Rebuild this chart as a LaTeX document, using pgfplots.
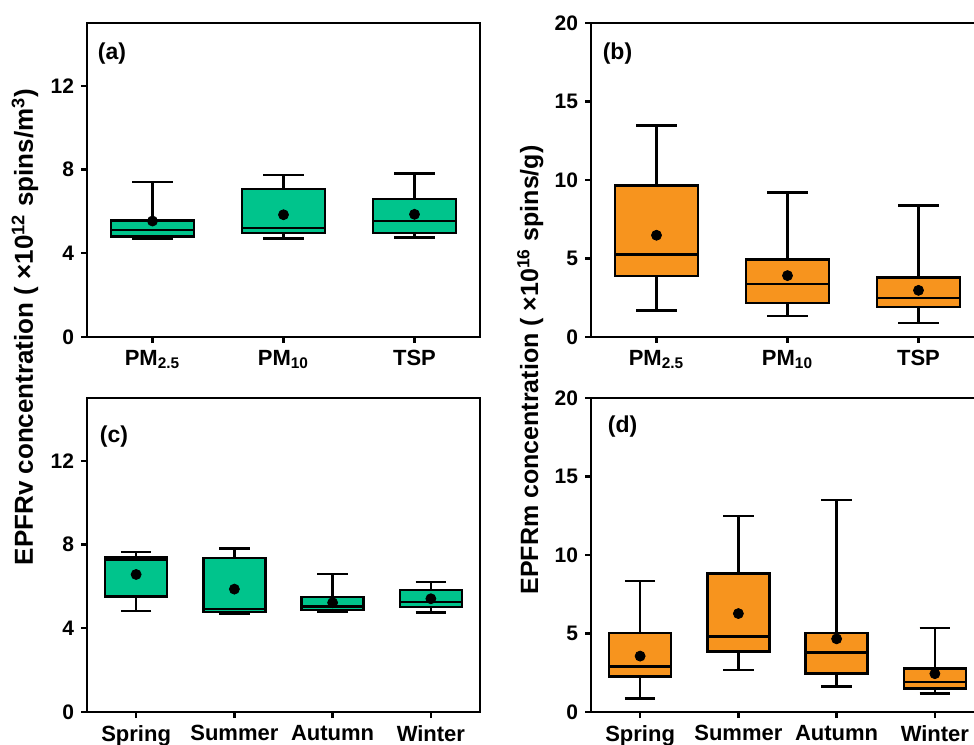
\documentclass[border=0pt]{standalone}
\usepackage{fontspec}
\setmainfont{Liberation Sans}
\usepackage{pgfplots}
\pgfplotsset{compat=1.18}
\usepgfplotslibrary{statistics}

\definecolor{boxgreen}{RGB}{0,196,140}
\definecolor{boxorange}{RGB}{247,148,30}

\pgfplotsset{
  panel/.style={
    scale only axis, width=196.5pt, height=157pt,
    anchor=south west,
    axis line style={line width=1.2pt},
    every tick/.style={line width=1.2pt, black},
    tick align=outside, major tick length=3pt,
    xtick pos=bottom, ytick pos=left,
    xticklabel style={font=\fontsize{11}{13}\selectfont\bfseries},
    yticklabel style={font=\fontsize{10.5}{12}\selectfont\bfseries},
    /pgf/number format/assume math mode=true,
    xmin=0.5, ymin=0,
    boxplot/draw direction=y,
    boxplot/box extend=0.63,
    boxplot/whisker extend=0.31,
  },
  bx/.style={solid, draw=black, line width=1.2pt, fill=#1, mark=none},
  meanpt/.style={only marks, mark=*, mark size=2.5pt, black, mark options={fill=black}},
}
\tikzset{tag/.style={anchor=north west, font=\fontsize{11.5}{13}\selectfont\bfseries}}

\begin{document}
\begin{tikzpicture}

% (a) EPFRv by particle size
\begin{axis}[panel, at={(43.5pt,203.5pt)}, xmax=3.5, ymax=15,
  ytick={0,4,8,12}, xtick={1,2,3},
  xticklabels={PM\textsubscript{2.5}, PM\textsubscript{10}, TSP}]
\addplot[bx=boxgreen, boxplot prepared={draw position=1, lower whisker=4.71,
  lower quartile=4.81, median=5.10, upper quartile=5.57, upper whisker=7.40}] coordinates {};
\addplot[bx=boxgreen, boxplot prepared={draw position=2, lower whisker=4.70,
  lower quartile=4.97, median=5.22, upper quartile=7.06, upper whisker=7.75}] coordinates {};
\addplot[bx=boxgreen, boxplot prepared={draw position=3, lower whisker=4.76,
  lower quartile=4.98, median=5.54, upper quartile=6.59, upper whisker=7.81}] coordinates {};
\addplot[meanpt] coordinates {(1,5.54) (2,5.84) (3,5.86)};
\node[tag] at (rel axis cs:0.01,0.96) {(a)};
\end{axis}

% (b) EPFRm by particle size
\begin{axis}[panel, at={(295.5pt,203.5pt)}, xmax=3.5, ymax=20,
  ytick={0,5,10,15,20}, xtick={1,2,3},
  xticklabels={PM\textsubscript{2.5}, PM\textsubscript{10}, TSP}]
\addplot[bx=boxorange, boxplot prepared={draw position=1, lower whisker=1.70,
  lower quartile=3.87, median=5.25, upper quartile=9.66, upper whisker=13.48}] coordinates {};
\addplot[bx=boxorange, boxplot prepared={draw position=2, lower whisker=1.32,
  lower quartile=2.17, median=3.36, upper quartile=4.93, upper whisker=9.20}] coordinates {};
\addplot[bx=boxorange, boxplot prepared={draw position=3, lower whisker=0.89,
  lower quartile=1.91, median=2.48, upper quartile=3.78, upper whisker=8.37}] coordinates {};
\addplot[meanpt] coordinates {(1,6.48) (2,3.91) (3,2.97)};
\node[tag] at (rel axis cs:0.012,0.96) {(b)};
\end{axis}

% (c) EPFRv by season
\begin{axis}[panel, at={(43.5pt,16pt)}, xmax=4.5, ymax=15,
  ytick={0,4,8,12}, xtick={1,2,3,4},
  xticklabels={Spring, Summer, Autumn, Winter}]
\addplot[bx=boxgreen, boxplot prepared={draw position=1, lower whisker=4.82,
  lower quartile=5.52, median=7.27, upper quartile=7.39, upper whisker=7.65}] coordinates {};
\addplot[bx=boxgreen, boxplot prepared={draw position=2, lower whisker=4.67,
  lower quartile=4.79, median=4.93, upper quartile=7.36, upper whisker=7.82}] coordinates {};
\addplot[bx=boxgreen, boxplot prepared={draw position=3, lower whisker=4.77,
  lower quartile=4.88, median=5.04, upper quartile=5.48, upper whisker=6.60}] coordinates {};
\addplot[bx=boxgreen, boxplot prepared={draw position=4, lower whisker=4.75,
  lower quartile=5.01, median=5.25, upper quartile=5.84, upper whisker=6.20}] coordinates {};
\addplot[meanpt] coordinates {(1,6.57) (2,5.87) (3,5.22) (4,5.41)};
\node[tag] at (rel axis cs:0.015,0.935) {(c)};
\end{axis}

% (d) EPFRm by season
\begin{axis}[panel, at={(295.5pt,16pt)}, xmax=4.5, ymax=20,
  ytick={0,5,10,15,20}, xtick={1,2,3,4},
  xticklabels={Spring, Summer, Autumn, Winter}]
\addplot[bx=boxorange, boxplot prepared={draw position=1, lower whisker=0.87,
  lower quartile=2.25, median=2.90, upper quartile=5.04, upper whisker=8.34}] coordinates {};
\addplot[bx=boxorange, boxplot prepared={draw position=2, lower whisker=2.67,
  lower quartile=3.85, median=4.81, upper quartile=8.83, upper whisker=12.47}] coordinates {};
\addplot[bx=boxorange, boxplot prepared={draw position=3, lower whisker=1.63,
  lower quartile=2.44, median=3.79, upper quartile=5.02, upper whisker=13.49}] coordinates {};
\addplot[bx=boxorange, boxplot prepared={draw position=4, lower whisker=1.17,
  lower quartile=1.49, median=1.90, upper quartile=2.76, upper whisker=5.36}] coordinates {};
\addplot[meanpt] coordinates {(1,3.56) (2,6.27) (3,4.66) (4,2.44)};
\node[tag] at (rel axis cs:0.025,0.965) {(d)};
\end{axis}

% shared y titles
\node[rotate=90, anchor=base, font=\fontsize{13}{15}\selectfont\bfseries]
  at (16.5pt,208.5pt) {EPFRv concentration ( ×10\textsuperscript{12} spins/m\textsuperscript{3})};
\node[rotate=90, anchor=base, font=\fontsize{12.5}{15}\selectfont\bfseries]
  at (269pt,187pt) {EPFRm concentration ( ×10\textsuperscript{16} spins/g)};

\pgfresetboundingbox
\path (0,0) rectangle (487pt,372pt);
\end{tikzpicture}
\end{document}
